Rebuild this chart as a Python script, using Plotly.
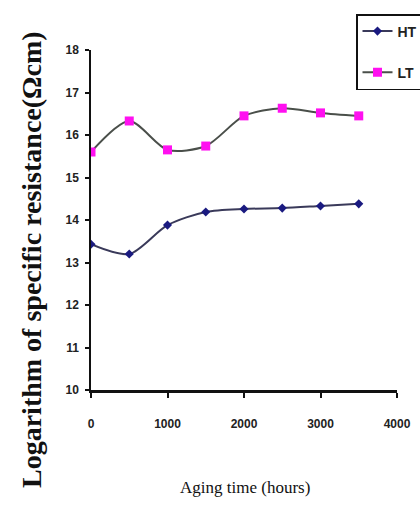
import plotly.graph_objects as go

hours = [0, 500, 1000, 1500, 2000, 2500, 3000, 3500]
ht_values = [13.43, 13.2, 13.88, 14.19, 14.26, 14.28, 14.33, 14.38]
lt_values = [15.6, 16.33, 15.65, 15.74, 16.45, 16.63, 16.52, 16.45]
x_ticks = [0, 1000, 2000, 3000, 4000]
y_ticks = [10, 11, 12, 13, 14, 15, 16, 17, 18]

PL, PR, PT, PB = 91, 397, 50, 390   # plot area in window pixels
W, H = 420, 517


def px(xw):
    return (xw - PL) / (PR - PL)


def py(yw):
    return (PB - yw) / (PB - PT)


tick_font = dict(family="Liberation Sans Narrow, Arial Narrow, sans-serif", size=12,
                 color="#222", weight="bold")

fig = go.Figure()
fig.add_trace(go.Scatter(
    x=hours, y=ht_values, name="HT", mode="lines+markers", legendgroup="a",
    line=dict(color="#3a3a5a", width=2, shape="spline", smoothing=0.8),
    marker=dict(symbol="diamond", size=7, color="#1a1a80"),
))
fig.add_trace(go.Scatter(
    x=hours, y=lt_values, name="LT", mode="lines+markers", legendgroup="b",
    line=dict(color="#4a4f4a", width=2, shape="spline", smoothing=0.8),
    marker=dict(symbol="square", size=9, color="#ff10f0"),
))

fig.update_layout(
    width=W, height=H,
    margin=dict(l=PL, r=W - PR, t=PT, b=H - PB, autoexpand=False),
    paper_bgcolor="white", plot_bgcolor="white",
    showlegend=True,
    legend=dict(
        x=px(356), y=py(14), xanchor="left", yanchor="top",
        bordercolor="#111", borderwidth=1.5, bgcolor="white",
        font=dict(family="Liberation Sans Narrow, Arial Narrow, sans-serif", size=14,
                  color="#222", weight="bold"),
        traceorder="grouped", tracegroupgap=20,
    ),
    xaxis=dict(
        range=[0, 4000], tickvals=x_ticks, ticktext=[str(v) for v in x_ticks],
        showgrid=False, zeroline=False, showline=True, linecolor="#111", linewidth=2.5,
        ticks="outside", ticklen=5, tickwidth=1.5, tickcolor="#111",
        tickfont=tick_font, ticklabelstandoff=16,
    ),
    yaxis=dict(
        range=[10, 18], tickvals=y_ticks, ticktext=[str(v) for v in y_ticks],
        showgrid=False, zeroline=False, showline=True, linecolor="#111", linewidth=1.5,
        ticks="outside", ticklen=4, tickwidth=1.5, tickcolor="#111",
        tickfont=tick_font, ticklabelstandoff=4,
    ),
    annotations=[
        dict(text="Aging time (hours)", xref="paper", yref="paper",
             x=px(245), y=py(488), xanchor="center", yanchor="middle",
             showarrow=False, font=dict(family="Liberation Serif, Times New Roman, serif", size=17, color="#111")),
        dict(text="<b>Logarithm of specific resistance(Ωcm)</b>", xref="paper", yref="paper",
             x=px(31), y=py(260), xanchor="center", yanchor="middle",
             textangle=-90, showarrow=False,
             font=dict(family="Liberation Serif, Times New Roman, serif", size=28, color="#111")),
    ],
)

fig.write_html("out.html", config={"displayModeBar": False},
               post_script="document.body.style.margin='0';")
